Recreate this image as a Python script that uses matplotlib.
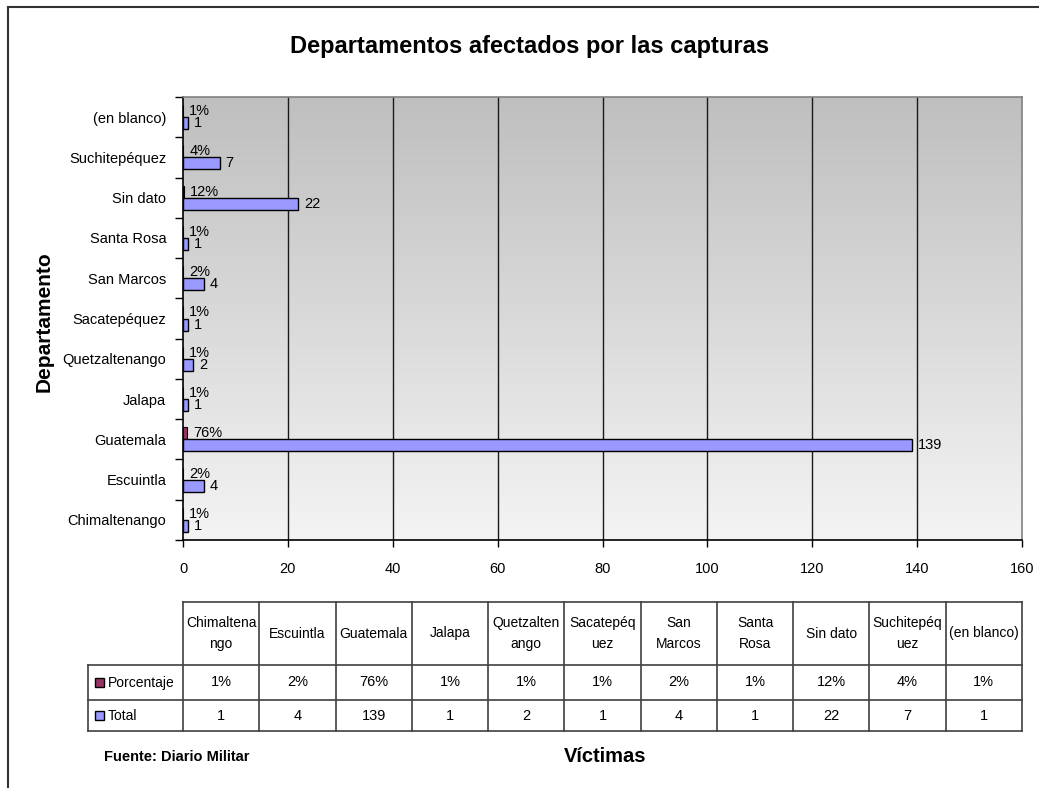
import numpy as np
import matplotlib
matplotlib.use("Agg")
import matplotlib.pyplot as plt
from matplotlib import font_manager
from matplotlib.lines import Line2D
from matplotlib.patches import Rectangle

categories = ["Chimaltenango", "Escuintla", "Guatemala", "Jalapa", "Quetzaltenango",
              "Sacatepéquez", "San Marcos", "Santa Rosa", "Sin dato", "Suchitepéquez",
              "(en blanco)"]
header_labels = ["Chimaltena\nngo", "Escuintla", "Guatemala", "Jalapa", "Quetzalten\nango",
                 "Sacatepéq\nuez", "San\nMarcos", "Santa\nRosa", "Sin dato", "Suchitepéq\nuez",
                 "(en blanco)"]
porcentaje = [0.01, 0.02, 0.76, 0.01, 0.01, 0.01, 0.02, 0.01, 0.12, 0.04, 0.01]
total = [1, 4, 139, 1, 2, 1, 4, 1, 22, 7, 1]
xticks = [0, 20, 40, 60, 80, 100, 120, 140, 160]

names = {f.name for f in font_manager.fontManager.ttflist}
NARROW = "Liberation Sans Narrow" if "Liberation Sans Narrow" in names else "Liberation Sans"
BOLD = "Liberation Sans"

W, H = 1039, 788
fig = plt.figure(figsize=(W / 100, H / 100), dpi=100)

def fx(px):
    return px / W

def fy(py):
    return 1 - py / H

# outer border
fig.add_artist(Line2D([fx(8), fx(8)], [fy(7), 0], color="#333333", lw=1.5))
fig.add_artist(Line2D([fx(8), 1], [fy(7), fy(7)], color="#333333", lw=1.5))

L, R, T, B = 183, 1022, 97, 540
ax = fig.add_axes([fx(L), fy(B), fx(R) - fx(L), fy(T) - fy(B)])

n = len(categories)
ypos = np.arange(n)
ax.set_xlim(0, 160)
ax.set_ylim(-0.5, n - 0.5)

# gradient background
grad = np.linspace(0, 1, 256).reshape(-1, 1)
ax.imshow(grad, extent=[0, 160, -0.5, n - 0.5], aspect="auto", origin="upper",
          cmap=matplotlib.colors.LinearSegmentedColormap.from_list("g", ["#bfbfbf", "#f4f4f4"]),
          zorder=0)
for xv in xticks[1:-1]:
    ax.axvline(xv, color="#1a1a1a", lw=1.0, zorder=1)

bh = 0.3
ax.barh(ypos + bh / 2, porcentaje, height=bh, color="#993366", edgecolor="black", lw=0.8, zorder=3)
ax.barh(ypos - bh / 2, total, height=bh, color="#9999FF", edgecolor="black", lw=1.0, zorder=3)

for i in range(n):
    ax.annotate(f"{porcentaje[i]:.0%}", (porcentaje[i], ypos[i] + bh / 2), xytext=(6, 0),
                textcoords="offset pixels", ha="left", va="center", fontsize=10.5,
                family=NARROW, zorder=4)
    ax.annotate(f"{total[i]}", (total[i], ypos[i] - bh / 2), xytext=(6, 0),
                textcoords="offset pixels", ha="left", va="center", fontsize=10.5,
                family=NARROW, zorder=4)

ax.set_xticks(xticks)
ax.set_xticklabels([str(v) for v in xticks], family=NARROW, fontsize=10.5)
ax.tick_params(axis="x", direction="out", length=5, width=1, pad=11, color="black")
ax.set_yticks(ypos)
ax.set_yticklabels(categories, family=NARROW, fontsize=10.5)
ax.set_yticks(np.arange(-0.5, n, 1.0), minor=True)
ax.tick_params(axis="y", which="major", length=0, pad=12)
ax.tick_params(axis="y", which="minor", direction="out", length=6, width=1, color="black")
for s in ["top", "right"]:
    ax.spines[s].set_color("#808080")
    ax.spines[s].set_linewidth(1.2)
for s in ["left", "bottom"]:
    ax.spines[s].set_color("black")
    ax.spines[s].set_linewidth(1.2)
ax.set_zorder(2)

fig.text(fx(530), fy(46), "Departamentos afectados por las capturas", ha="center", va="center",
         fontsize=17, fontweight="bold", family=BOLD)
fig.text(fx(44), fy(322), "Departamento", ha="center", va="center", rotation=90,
         fontsize=15, fontweight="bold", family=BOLD)
fig.text(fx(605), fy(756), "Víctimas", ha="center", va="center",
         fontsize=14.5, fontweight="bold", family=BOLD)
fig.text(fx(104), fy(757), "Fuente: Diario Militar", ha="left", va="center",
         fontsize=10.5, fontweight="bold", family=BOLD)

# data table
tl, tr = 88, 1022
t0, t1, t2, t3 = 602, 665, 700, 731
tax = fig.add_axes([fx(tl), fy(t3), fx(tr) - fx(tl), fy(t0) - fy(t3)])
tax.set_xlim(tl, tr)
tax.set_ylim(t3, t0)
tax.axis("off")
colw = (R - L) / n
lc = "#404040"
tax.plot([L, R], [t0, t0], color=lc, lw=1.2, clip_on=False)
for yy in (t1, t2, t3):
    tax.plot([tl, R], [yy, yy], color=lc, lw=1.2, clip_on=False)
tax.plot([tl, tl], [t1, t3], color=lc, lw=1.2, clip_on=False)
for j in range(n + 1):
    xx = L + j * colw
    tax.plot([xx, xx], [t0, t3], color=lc, lw=1.2, clip_on=False)
for j in range(n):
    cx = L + (j + 0.5) * colw
    tax.text(cx, (t0 + t1) / 2, header_labels[j], ha="center", va="center", fontsize=10,
             family=NARROW, linespacing=1.7)
    tax.text(cx, (t1 + t2) / 2, f"{porcentaje[j]:.0%}", ha="center", va="center",
             fontsize=10.5, family=NARROW)
    tax.text(cx, (t2 + t3) / 2, f"{total[j]}", ha="center", va="center",
             fontsize=10.5, family=NARROW)
for (yy0, yy1), lab, col in [((t1, t2), "Porcentaje", "#993366"), ((t2, t3), "Total", "#9999FF")]:
    cy = (yy0 + yy1) / 2
    tax.add_patch(Rectangle((95, cy - 4.5), 9, 9, facecolor=col, edgecolor="black", lw=1.0,
                            clip_on=False))
    tax.text(108, cy, lab, ha="left", va="center", fontsize=10, family=NARROW)

fig.savefig("out.png", dpi=100)
